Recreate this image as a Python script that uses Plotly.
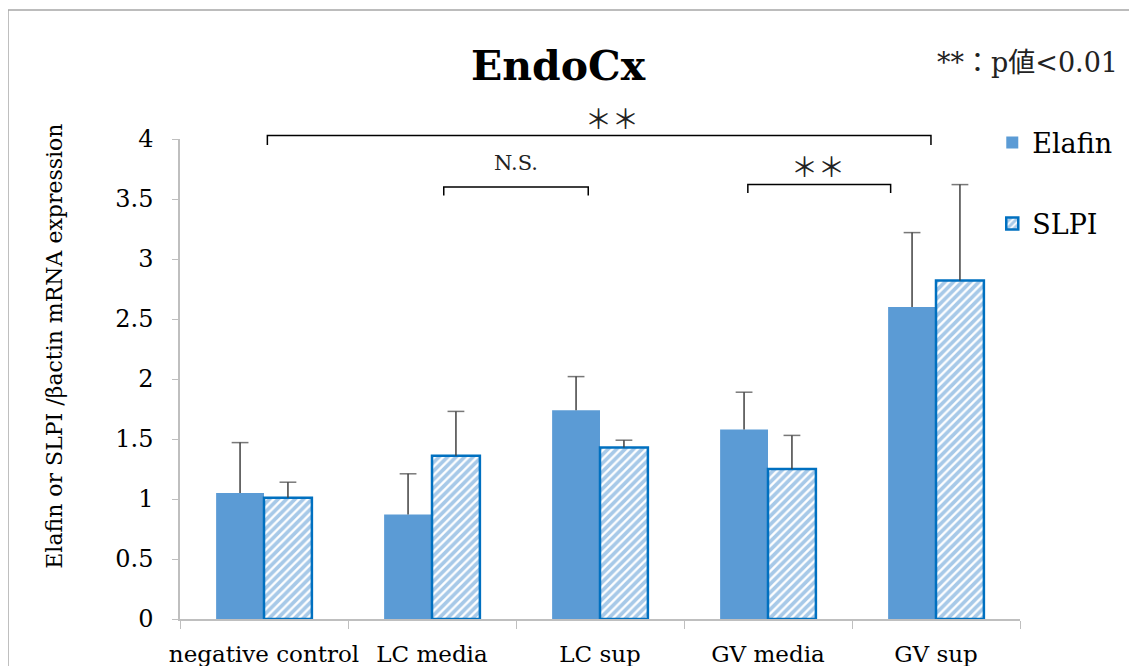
import plotly.graph_objects as go

categories = ["negative control", "LC media", "LC sup", "GV media", "GV sup"]
elafin = [1.05, 0.87, 1.74, 1.58, 2.60]
elafin_err = [0.42, 0.34, 0.28, 0.31, 0.62]
slpi = [1.01, 1.36, 1.43, 1.25, 2.82]
slpi_err = [0.13, 0.37, 0.06, 0.28, 0.80]
y_ticks = [0, 0.5, 1, 1.5, 2, 2.5, 3, 3.5, 4]
y_tick_labels = ["0", "0.5", "1", "1.5", "2", "2.5", "3", "3.5", "4"]

SERIF = "DejaVu Serif, Noto Sans CJK JP, serif"
YMAX = 4.0
GAP = 0.43

fig = go.Figure()
fig.add_trace(go.Bar(
    name="Elafin", x=categories, y=elafin, offsetgroup="e",
    marker=dict(color="#5B9BD5", line=dict(width=0)),
    legendgroup="a",
))
fig.add_trace(go.Bar(
    name="SLPI", x=categories, y=slpi, offsetgroup="s",
    marker=dict(color="white", line=dict(color="#0070C0", width=2.5),
                pattern=dict(shape="/", fgcolor="#4F93D2", bgcolor="white", size=6, solidity=0.62)),
    legendgroup="b",
))

# upward-only error bars (line from bar top to top of error, cap only at the top)
def err_trace(vals, errs, group):
    xs, ys, sizes = [], [], []
    for c, v, e in zip(categories, vals, errs):
        xs += [c, c, None]
        ys += [v, v + e, None]
        sizes += [0, 12, 0]
    fig.add_trace(go.Scatter(
        x=xs, y=ys, mode="lines+markers", offsetgroup=group, showlegend=False,
        line=dict(color="#404040", width=1.5), connectgaps=False,
        marker=dict(symbol="line-ew", size=sizes, line=dict(color="#404040", width=1.5)),
        hoverinfo="skip", cliponaxis=False,
    ))

err_trace(elafin, elafin_err, "e")
err_trace(slpi, slpi_err, "s")

# significance brackets (y given in data units, converted to paper fraction)
def bracket(x0, x1, y, drop):
    ya, yb = y / YMAX, (y - drop) / YMAX
    fig.add_shape(type="path", xref="x", yref="paper",
                  path=f"M {x0} {yb} L {x0} {ya} L {x1} {ya} L {x1} {yb}",
                  line=dict(color="black", width=1.5))

bracket(0.02, 3.97, 4.03, 0.08)
bracket(1.07, 1.93, 3.60, 0.07)
bracket(2.88, 3.73, 3.62, 0.07)

anns = [
    dict(x=2.07, y=4.16, text="＊＊", size=27),
    dict(x=1.5, y=3.80, text="N.S.", size=21),
    dict(x=3.3, y=3.76, text="＊＊", size=27),
]
for a in anns:
    fig.add_annotation(x=a["x"], y=a["y"] / YMAX, xref="x", yref="paper", text=a["text"],
                       showarrow=False, yanchor="middle",
                       font=dict(family=SERIF, size=a["size"], color="#222"))

fig.add_annotation(x=1.119, y=1.160, xref="paper", yref="paper", xanchor="right", yanchor="middle",
                   text="**：p値<0.01", showarrow=False,
                   font=dict(family=SERIF, size=27, color="#222"))

# y axis title as annotation
fig.add_annotation(x=-0.149, y=0.569, xref="paper", yref="paper", textangle=-90,
                   xanchor="center", yanchor="middle", showarrow=False,
                   text="Elafin or SLPI /βactin mRNA expression",
                   font=dict(family=SERIF, size=22, color="black"))

# outer frame (top and left)
fig.add_shape(type="line", xref="paper", yref="paper", x0=-0.2048, x1=1.2, y0=1.269, y1=1.269,
              line=dict(color="#A6A6A6", width=1.5))
fig.add_shape(type="line", xref="paper", yref="paper", x0=-0.2048, x1=-0.2048, y0=1.269, y1=-0.2,
              line=dict(color="#A6A6A6", width=1.5))

fig.update_layout(
    width=1137, height=666,
    margin=dict(l=172, r=125, t=131, b=55, autoexpand=False),
    paper_bgcolor="white", plot_bgcolor="white",
    barmode="group", bargap=GAP, bargroupgap=0,
    scattermode="group", scattergap=GAP,
    title=dict(text="<b>EndoCx</b>", x=550/1137, xanchor="center", y=0.913, yanchor="middle",
               font=dict(family=SERIF, size=41, color="black")),
    font=dict(family=SERIF, color="#222"),
    legend=dict(x=0.967, y=1.043, xanchor="left", yanchor="top",
                font=dict(family=SERIF, size=27, color="black"),
                tracegroupgap=43, bgcolor="rgba(0,0,0,0)"),
    showlegend=True,
)
fig.update_xaxes(showline=True, linecolor="#BFBFBF", linewidth=1.5,
                 ticks="outside", tickson="boundaries", ticklen=8, tickcolor="#BFBFBF",
                 tickangle=0, automargin=False, ticklabelstandoff=14,
                 tickfont=dict(family=SERIF, size=23, color="black"), showgrid=False)
fig.update_yaxes(range=[0, YMAX], tickvals=y_ticks, ticktext=y_tick_labels,
                 showline=True, linecolor="#BFBFBF", linewidth=1.5,
                 ticks="outside", ticklen=6, tickcolor="#BFBFBF", automargin=False,
                 ticklabelstandoff=14,
                 tickfont=dict(family=SERIF, size=24, color="black"), showgrid=False,
                 zeroline=False)

fig.write_html("out.html")
